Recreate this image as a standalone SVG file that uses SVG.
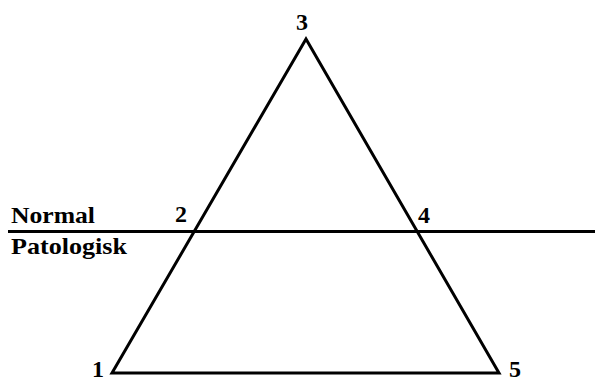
<svg xmlns="http://www.w3.org/2000/svg" width="595" height="383" viewBox="0 0 595 383">
<style>
.t{font-family:"Liberation Serif","Times New Roman",serif;font-weight:bold;font-size:24px;fill:#000}
.ln{stroke:#000;stroke-width:3;fill:none}
</style>
<rect width="595" height="383" fill="#fff"/>
<g id="connectors">
<polygon class="ln" points="306,39 112,373 499,373" stroke-linejoin="miter"/>
<line class="ln" x1="8" y1="231.5" x2="595" y2="231.5"/>
</g>
<g id="label-normal"><text class="t" x="11" y="223" textLength="84" lengthAdjust="spacingAndGlyphs">Normal</text></g>
<g id="label-patologisk"><text class="t" x="11" y="254" textLength="116" lengthAdjust="spacingAndGlyphs">Patologisk</text></g>
<g id="n1"><text class="t" x="92" y="377">1</text></g>
<g id="n2"><text class="t" x="175" y="222">2</text></g>
<g id="n3"><text class="t" x="296" y="30">3</text></g>
<g id="n4"><text class="t" x="418" y="223">4</text></g>
<g id="n5"><text class="t" x="509" y="377">5</text></g>
</svg>
